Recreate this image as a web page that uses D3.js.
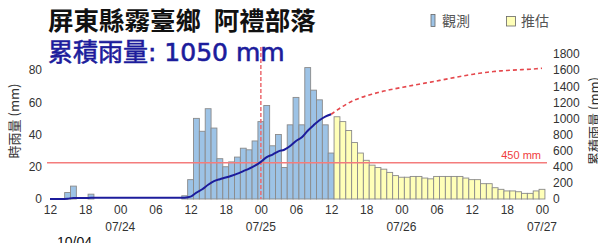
<!DOCTYPE html>
<html><head><meta charset="utf-8">
<script src="https://cdn.jsdelivr.net/npm/d3@7"></script>
<style>
body{margin:0;background:#fff;}
svg{display:block;}
</style></head>
<body>
<svg id="c" width="598" height="243"></svg>
<script>
const startTime = new Date(2023, 6, 23, 12, 0);
const endTime = new Date(2023, 6, 27, 0, 0);
const titleText = "屏東縣霧臺鄉\u2002阿禮部落";
const totalText = "累積雨量: 1050 mm";
const dateStamp = "10/04";
const legendLabels = ["觀測", "推估"];
const leftTicks = [0, 20, 40, 60, 80];
const rightTicks = [0, 200, 400, 600, 800, 1000, 1200, 1400, 1600, 1800];
const warnLevel = 450;
const warnLabel = "450 mm";
// hourly rainfall (mm), observed from 07/23 12:00 to 07/25 12:00
const observed = [0,0,0,4,8,0,0,3, 0,0,0,0,0,0,0,0, 0,0,0,0,0,0,0,2,
  12,50,42,56,44,25,20,23,26,31.5,30.5,36,48,58,33,40,19.5,46,63,46,81.5,67.5,61.5,46,28.5];
// hourly rainfall (mm), forecast from 07/25 13:00 to 07/27 00:00
const forecast = [51,48,42.5,35,28.5,24,21,19.5,18.5,16.5,14.5,13.5,13.5,14,14,13,12.5,14,14,14,
  14,14,13,12,12,9.5,9.5,7,6,5,5,4.5,3.5,3.5,5,6];

const svg = d3.select("#c");
const x = d3.scaleTime().domain([startTime, endTime]).range([50, 542]);
const yL = d3.scaleLinear().domain([0, 80]).range([199, 70]);
const yR = d3.scaleLinear().domain([0, 1800]).range([199, 54]);
const hour = i => d3.timeHour.offset(startTime, i);
const bw = x(hour(1)) - x(hour(0));

const obsData = observed.map((v, i) => ({t: hour(i), v}));
const fcData = forecast.map((v, i) => ({t: hour(observed.length + i), v}));
const obsCum = d3.cumsum(observed);
const lastObs = obsCum[obsCum.length - 1];
const fcCum = d3.cumsum(forecast).map(v => v + lastObs);

const tickFont = "'Liberation Sans', Arial, sans-serif";

// bars
function drawBars(data, fill) {
  svg.append("g").selectAll("rect").data(data).join("rect")
    .attr("x", d => x(d.t) - bw / 2)
    .attr("width", bw)
    .attr("y", d => yL(d.v))
    .attr("height", d => yL(0) - yL(d.v))
    .attr("fill", fill)
    .attr("stroke", "#8a8a8a")
    .attr("stroke-width", 0.9);
}
drawBars(obsData, "#9dc3e6");
drawBars(fcData, "#ffffb8");

// 450 line
svg.append("line").attr("x1", 47).attr("x2", 547)
  .attr("y1", yR(warnLevel)).attr("y2", yR(warnLevel))
  .attr("stroke", "#f47c7c").attr("stroke-width", 1.5);
svg.append("text").attr("x", 541).attr("y", yR(warnLevel) - 4)
  .attr("text-anchor", "end").attr("fill", "#f03c3c")
  .attr("font-family", tickFont).attr("font-size", 11).text(warnLabel);

// vertical dashed line at 07/25 00
const midnight = new Date(2023, 6, 25, 0, 0);
svg.append("line").attr("x1", x(midnight)).attr("x2", x(midnight))
  .attr("y1", 47).attr("y2", 199)
  .attr("stroke", "#ec6b70").attr("stroke-width", 1.5).attr("stroke-dasharray", "4,2");

// cumulative observed line
const lineGen = d3.line().x(d => x(d[0])).y(d => yR(d[1])).curve(d3.curveMonotoneX);
const obsLinePts = observed.map((v, i) => [hour(i), obsCum[i]]);
svg.append("path").attr("d", lineGen(obsLinePts))
  .attr("fill", "none").attr("stroke", "#1c1c9c").attr("stroke-width", 2);
// forecast cumulative dashed
const fcLinePts = [[hour(observed.length - 1), lastObs]].concat(forecast.map((v, i) => [hour(observed.length + i), fcCum[i]]));
svg.append("path").attr("d", lineGen(fcLinePts))
  .attr("fill", "none").attr("stroke", "#e5484d").attr("stroke-width", 1.6).attr("stroke-dasharray", "4,3");

// left axis
const gL = svg.append("g").attr("transform", "translate(42,0)")
  .call(d3.axisLeft(yL).tickValues(leftTicks).tickSize(0).tickPadding(0));
gL.select(".domain").remove();
gL.selectAll("text").attr("font-family", tickFont).attr("font-size", 12).attr("fill", "#333");

// right axis
const gR = svg.append("g").attr("transform", "translate(553,0)")
  .call(d3.axisRight(yR).tickValues(rightTicks).tickFormat(d3.format("d")).tickSize(0).tickPadding(0));
gR.select(".domain").remove();
gR.selectAll("text").attr("font-family", tickFont).attr("font-size", 12).attr("fill", "#333");

// x axis
const gX = svg.append("g").attr("transform", "translate(0,205)")
  .call(d3.axisBottom(x).ticks(d3.timeHour.every(6)).tickFormat(d3.timeFormat("%H")).tickSize(0).tickPadding(0));
gX.select(".domain").remove();
gX.selectAll("text").attr("font-family", tickFont).attr("font-size", 12).attr("fill", "#333");
const dayTicks = x.ticks(d3.timeDay.every(1)).filter(d => d > startTime);
svg.append("g").selectAll("text").data(dayTicks).join("text")
  .attr("x", d => x(d)).attr("y", 231).attr("text-anchor", "middle")
  .attr("font-family", tickFont).attr("font-size", 12).attr("fill", "#333")
  .text(d3.timeFormat("%m/%d"));

// axis titles
svg.append("text").attr("transform", "translate(19,121) rotate(-90)")
  .attr("text-anchor", "middle").attr("font-family", "'Noto Sans CJK TC', sans-serif")
  .attr("font-size", 13).attr("fill", "#333").text("時雨量 (mm)");
svg.append("text").attr("transform", "translate(599,121) rotate(-90)")
  .attr("text-anchor", "middle").attr("font-family", "'Noto Sans CJK TC', sans-serif")
  .attr("font-size", 13).attr("fill", "#333").text("累積雨量 (mm)");

// titles
svg.append("text").attr("x", 48).attr("y", 30)
  .attr("font-family", "'DejaVu Sans', 'Noto Sans CJK TC', sans-serif")
  .attr("font-weight", "bold").attr("font-size", 25.5).attr("fill", "#111").text(titleText);
svg.append("text").attr("x", 48).attr("y", 61)
  .attr("font-family", "'DejaVu Sans', 'Noto Sans CJK TC', sans-serif")
  .attr("font-size", 25).attr("fill", "#1c1c9c")
  .attr("stroke", "#1c1c9c").attr("stroke-width", 0.6).text(totalText);

// legend
svg.append("rect").attr("x", 431).attr("y", 14.5).attr("width", 4).attr("height", 12)
  .attr("fill", "#9dc3e6").attr("stroke", "#666").attr("stroke-width", 0.8);
svg.append("text").attr("x", 442).attr("y", 26).attr("font-family", "'Noto Sans CJK TC', sans-serif")
  .attr("font-size", 14).attr("fill", "#555").text(legendLabels[0]);
svg.append("rect").attr("x", 506.5).attr("y", 16.5).attr("width", 9).attr("height", 9.5)
  .attr("fill", "#ffffb8").attr("stroke", "#666").attr("stroke-width", 0.8);
svg.append("text").attr("x", 521).attr("y", 26).attr("font-family", "'Noto Sans CJK TC', sans-serif")
  .attr("font-size", 14).attr("fill", "#555").text(legendLabels[1]);

// date stamp
svg.append("text").attr("x", 57).attr("y", 247).attr("font-family", tickFont)
  .attr("font-size", 14).attr("fill", "#111").text(dateStamp);
</script>
</body></html>
